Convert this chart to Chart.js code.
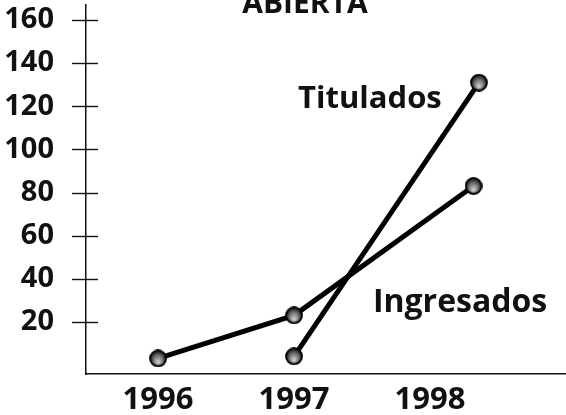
<!DOCTYPE html>
<html>
<head>
<meta charset="utf-8">
<script src="https://cdn.jsdelivr.net/npm/chart.js@4/dist/chart.umd.min.js"></script>
<style>
  html, body { margin: 0; padding: 0; background: #fff; }
  canvas { display: block; }
</style>
</head>
<body>
<canvas id="chart" width="566" height="415"></canvas>
<script>
/* ---------------------------------
   DATA
--------------------------------- */
const yearTicks = [1996, 1997, 1998];
const valueTicks = [20, 40, 60, 80, 100, 120, 140, 160];
const ingresadosYears = [1996, 1997, 1998.32];
const ingresados = [3, 23, 83];
const tituladosYears = [1997, 1998.36];
const titulados = [4, 131];
const seriesNames = ["Ingresados", "Titulados"];
const chartTitle = "ABIERTA";

/* ---------------------------------
   STYLE HELPERS
--------------------------------- */
const FONT = "'Open Sans', 'DejaVu Sans', sans-serif";
const INK = "#111";

// grey shaded ball used as the point marker
function makeBall(r) {
  const c = document.createElement("canvas");
  const s = r * 2 + 2;
  c.width = s;
  c.height = s;
  const g = c.getContext("2d");
  const grad = g.createRadialGradient(s / 2, s / 2 + r * 0.5, 1, s / 2, s / 2, r);
  grad.addColorStop(0, "#c8c8c8");
  grad.addColorStop(0.5, "#777");
  grad.addColorStop(1, "#111");
  g.beginPath();
  g.arc(s / 2, s / 2, r, 0, Math.PI * 2);
  g.fillStyle = grad;
  g.fill();
  g.lineWidth = 1.8;
  g.strokeStyle = "#000";
  g.stroke();
  return c;
}
const ball = makeBall(8);

/* ---------------------------------
   DECORATIONS (cross ticks, title, series names)
--------------------------------- */
const decorations = {
  id: "decorations",
  afterDraw(chart) {
    const { ctx, scales } = chart;
    const x = scales.x, y = scales.y;
    ctx.save();
    // ticks that cross the y axis
    ctx.strokeStyle = INK;
    ctx.lineWidth = 1.4;
    valueTicks.forEach((v) => {
      const py = Math.round(y.getPixelForValue(v)) + 0.5;
      ctx.beginPath();
      ctx.moveTo(x.left - 14, py);
      ctx.lineTo(x.left + 12, py);
      ctx.stroke();
    });
    ctx.fillStyle = INK;
    ctx.textBaseline = "alphabetic";
    // title, cut by the top edge
    ctx.font = "bold 30px " + FONT;
    ctx.textAlign = "center";
    ctx.fillText(chartTitle, 305, 13);
    // series names next to their lines
    ctx.textAlign = "left";
    ctx.font = "bold 31px " + FONT;
    ctx.fillText(seriesNames[1], x.getPixelForValue(1997.03), y.getPixelForValue(119));
    ctx.font = "bold 32px " + FONT;
    ctx.fillText(seriesNames[0], x.getPixelForValue(1997.58), y.getPixelForValue(24.5));
    ctx.restore();
  }
};

/* ---------------------------------
   CHART
--------------------------------- */
const lineStyle = {
  borderColor: "#000",
  borderWidth: 5,
  pointStyle: ball,
  pointRadius: 8,
  tension: 0,
  fill: false
};

new Chart(document.getElementById("chart"), {
  type: "line",
  data: {
    datasets: [
      Object.assign({
        label: seriesNames[0],
        data: ingresadosYears.map((yr, i) => ({ x: yr, y: ingresados[i] }))
      }, lineStyle),
      Object.assign({
        label: seriesNames[1],
        data: tituladosYears.map((yr, i) => ({ x: yr, y: titulados[i] }))
      }, lineStyle)
    ]
  },
  options: {
    responsive: false,
    animation: false,
    layout: { autoPadding: false, padding: { top: 5, left: 0, right: 0, bottom: 0 } },
    plugins: {
      legend: { display: false },
      title: { display: false },
      tooltip: { enabled: false }
    },
    scales: {
      x: {
        type: "linear",
        min: 1995.47,
        max: 1999.0,
        afterBuildTicks: (s) => { s.ticks = yearTicks.map((v) => ({ value: v })); },
        afterFit: (s) => {
          s.height = 41;
          s.paddingLeft = 0;
          s.paddingRight = 0;
        },
        ticks: {
          callback: (v) => String(v),
          color: INK,
          font: { family: FONT, size: 31, weight: "bold" },
          padding: 8,
          maxRotation: 0
        },
        grid: { display: false, drawTicks: false },
        border: { display: true, color: INK, width: 1.5 }
      },
      y: {
        min: -4.2,
        max: 167,
        afterBuildTicks: (s) => { s.ticks = valueTicks.map((v) => ({ value: v })); },
        afterFit: (s) => {
          s.width = 86;
          s.paddingTop = 0;
          s.paddingBottom = 0;
        },
        ticks: {
          color: INK,
          font: { family: FONT, size: 29, weight: "bold" },
          padding: 32
        },
        grid: { display: false, drawTicks: false },
        border: { display: true, color: INK, width: 1.5 }
      }
    }
  },
  plugins: [decorations]
});
</script>
</body>
</html>
